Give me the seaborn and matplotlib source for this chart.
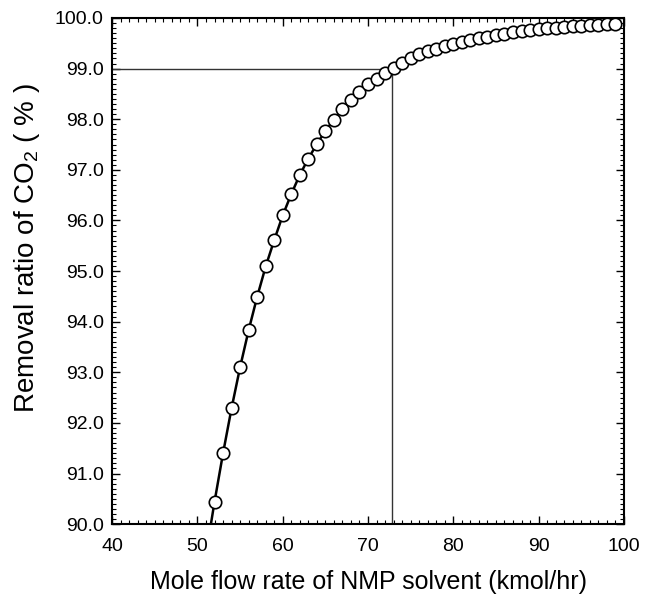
import numpy as np
import pandas as pd
import matplotlib
matplotlib.use("Agg")
import matplotlib.pyplot as plt
from matplotlib.ticker import MultipleLocator, FormatStrFormatter
import seaborn as sns

# caudal molar de NMP (kmol/hr) y remocion de CO2 (%)
flujo = [51, 52, 53, 54, 55, 56, 57, 58, 59, 60,
         61, 62, 63, 64, 65, 66, 67, 68, 69, 70,
         71, 72, 73, 74, 75, 76, 77, 78, 79, 80,
         81, 82, 83, 84, 85, 86, 87, 88, 89, 90,
         91, 92, 93, 94, 95, 96, 97, 98, 99]
remocion = [89.40, 90.44, 91.40, 92.29, 93.10, 93.83, 94.49, 95.09, 95.61, 96.10,
            96.52, 96.90, 97.22, 97.51, 97.77, 97.99, 98.20, 98.38, 98.54, 98.69,
            98.80, 98.91, 99.02, 99.12, 99.21, 99.28, 99.34, 99.39, 99.44, 99.49,
            99.53, 99.56, 99.60, 99.63, 99.66, 99.69, 99.72, 99.75, 99.77, 99.79,
            99.80, 99.81, 99.83, 99.84, 99.85, 99.86, 99.87, 99.88, 99.89]

# punto de 99 % de remocion
flujo_99 = 72.87
remocion_99 = 99.0

df = pd.DataFrame({'flujo': flujo, 'remocion': remocion})
puntos = df[df['flujo'] >= 52]

sns.set_style('ticks')
plt.rcParams['font.family'] = ['Liberation Sans', 'DejaVu Sans']
plt.rcParams['mathtext.fontset'] = 'custom'
plt.rcParams['mathtext.rm'] = 'Liberation Sans'
plt.rcParams['text.color'] = 'black'
plt.rcParams['axes.labelcolor'] = 'black'

fig = plt.figure(figsize=(6.56, 5.99), dpi=100)
ax = fig.add_axes([0.171, 0.125, 0.780, 0.845])

ax.plot([40, flujo_99], [remocion_99, remocion_99], color='#333333', lw=1.0, zorder=1)
ax.plot([flujo_99, flujo_99], [90, remocion_99], color='#333333', lw=1.0, zorder=1)

sns.lineplot(data=df, x='flujo', y='remocion', color='black', lw=1.8, ax=ax, zorder=2)
sns.scatterplot(data=puntos, x='flujo', y='remocion', marker='o', s=80,
                facecolor='white', edgecolor='black', linewidth=1.2, ax=ax, zorder=3)

ax.set_xlim(40, 100)
ax.set_ylim(90, 100)
ax.xaxis.set_major_locator(MultipleLocator(10))
ax.xaxis.set_minor_locator(MultipleLocator(1))
ax.yaxis.set_major_locator(MultipleLocator(1))
ax.yaxis.set_minor_locator(MultipleLocator(0.1))
ax.yaxis.set_major_formatter(FormatStrFormatter('%.1f'))
ax.tick_params(which='both', direction='in', top=True, right=True, labelsize=14,
               colors='black', labelcolor='black')
ax.tick_params(which='major', length=6, width=1.0)
ax.tick_params(which='minor', length=3, width=0.8)
ax.tick_params(axis='x', which='major', pad=10)
ax.tick_params(axis='y', which='major', pad=6)
for s in ax.spines.values():
    s.set_linewidth(1.5)
    s.set_color('black')

ax.set_xlabel('Mole flow rate of NMP solvent (kmol/hr)', fontsize=18, labelpad=11)
ax.set_ylabel('Removal ratio of CO$_\\mathregular{2}$ ( % )', fontsize=20)
ax.yaxis.set_label_coords(-0.137, 0.545)

fig.savefig('out.png', dpi=100)
